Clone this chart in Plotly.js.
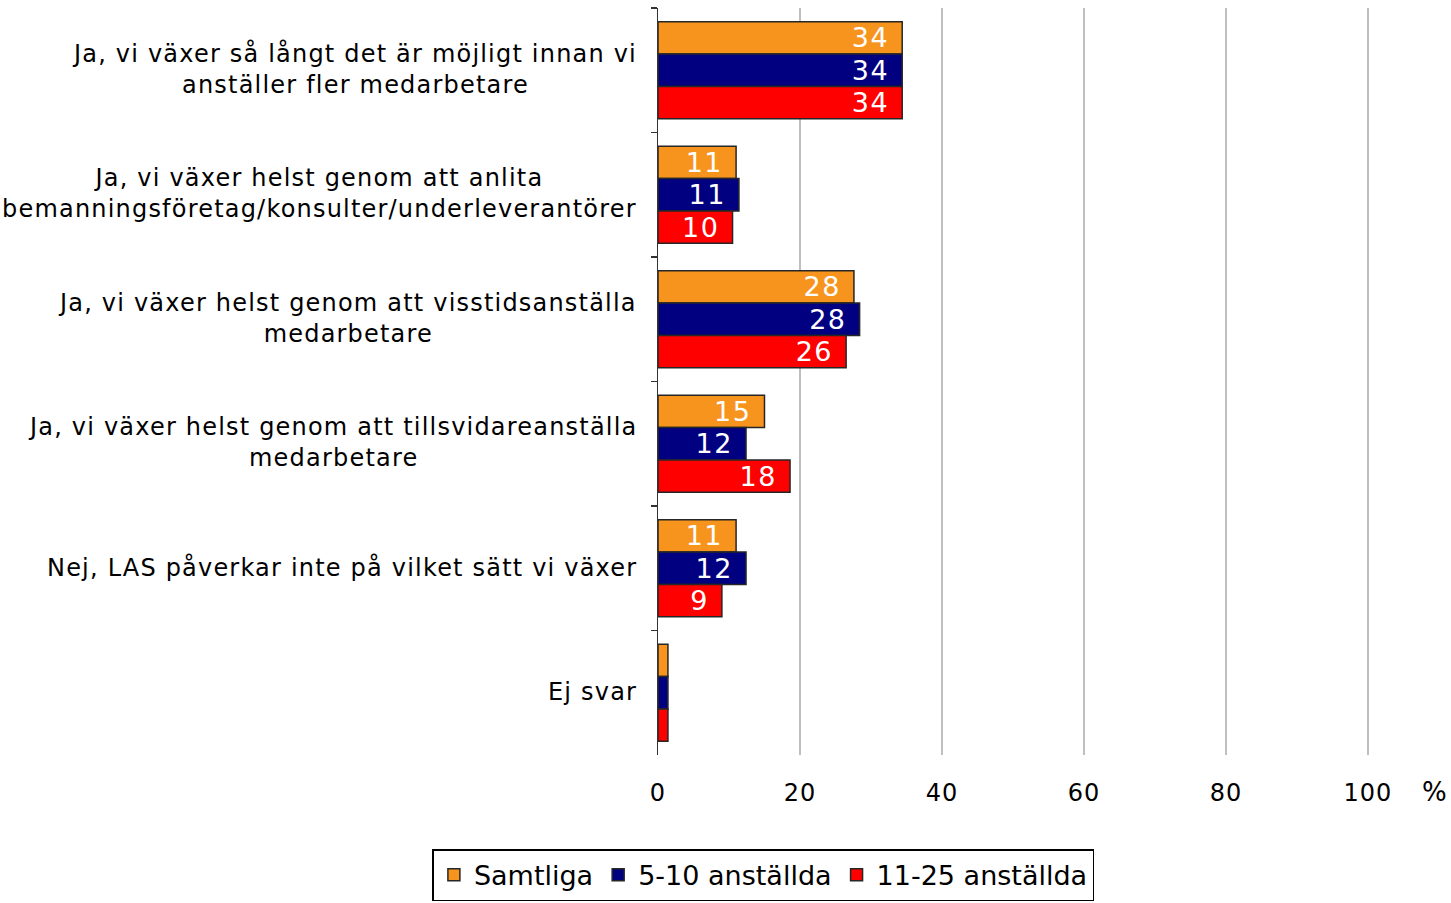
<!DOCTYPE html>
<html>
<head>
<meta charset="utf-8">
<script src="https://cdn.plot.ly/plotly-3.0.1.min.js"></script>
<style>
html,body{margin:0;padding:0;background:#fff;}
#chart{width:1451px;height:903px;}
text.annotation-text{letter-spacing:1.2px;}
text.bartext{letter-spacing:1.5px;}
.xtick text{letter-spacing:1px;}
</style>
</head>
<body>
<div id="chart"></div>
<script>
const categories = [
  "Ja, vi växer så långt det är möjligt innan vi<br>anställer fler medarbetare",
  "Ja, vi växer helst genom att anlita<br>bemanningsföretag/konsulter/underleverantörer",
  "Ja, vi växer helst genom att visstidsanställa<br>medarbetare",
  "Ja, vi växer helst genom att tillsvidareanställa<br>medarbetare",
  "Nej, LAS påverkar inte på vilket sätt vi växer",
  "Ej svar"
];
const seriesNames = ["Samtliga", "5-10 anställda", "11-25 anställda"];
const samtliga = [34.4, 11.0, 27.6, 15.0, 11.0, 1.4];
const small = [34.4, 11.4, 28.4, 12.4, 12.4, 1.4];
const medium = [34.4, 10.5, 26.5, 18.6, 9.0, 1.4];
const samtligaLabels = ["34", "11", "28", "15", "11", ""];
const smallLabels = ["34", "11", "28", "12", "12", ""];
const mediumLabels = ["34", "10", "26", "18", "9", ""];
const xTicks = [0, 20, 40, 60, 80, 100];
const colors = ["#F7941D", "#000080", "#FF0000"];

const FONT = "DejaVu Sans, Verdana, sans-serif";
const vals = [samtliga, small, medium];
const labs = [samtligaLabels, smallLabels, mediumLabels];
const data = seriesNames.map((name, i) => ({
  type: "bar",
  orientation: "h",
  name: name,
  y: categories,
  x: vals[i],
  text: labs[i].map(t => t ? t + "\u00a0" : ""),
  textposition: "inside",
  insidetextanchor: "end",
  textangle: 0,
  constraintext: "none",
  insidetextfont: {family: FONT, size: 27, color: "#ffffff"},
  hoverinfo: "x+name",
  marker: {color: colors[i], line: {color: "#262626", width: 1.5}}
}));

const annotations = categories.map(c => ({
  xref: "paper", yref: "y", x: 0, y: c,
  xanchor: "right", yanchor: "middle", align: "center",
  xshift: -19, yshift: 1, text: c, showarrow: false,
  font: {family: FONT, size: 24, color: "#000"}
}));
annotations.push({
  xref: "x", yref: "paper", x: 100, y: 0, xanchor: "left", yanchor: "top",
  xshift: 52, yshift: -20, text: "%", showarrow: false,
  font: {family: FONT, size: 26, color: "#000"}
});

const layout = {
  width: 1451, height: 903,
  margin: {l: 658, r: 76, t: 8, b: 148, autoexpand: false},
  paper_bgcolor: "#fff", plot_bgcolor: "#fff",
  barmode: "group", bargap: 0.22, bargroupgap: 0,
  font: {family: FONT, color: "#000"},
  showlegend: true,
  legend: {
    orientation: "h", x: 0.147, xanchor: "center", y: -0.126, yanchor: "top",
    bordercolor: "#000", borderwidth: 1.5,
    font: {family: FONT, size: 27, color: "#000"},
    itemwidth: 30, tracegroupgap: 0
  },
  xaxis: {
    range: [0, 101], tickvals: xTicks, ticktext: xTicks.map(String),
    showgrid: true, gridcolor: "#BFBFBF", gridwidth: 1.5,
    zeroline: false, showline: false, ticks: "",
    ticklabelstandoff: 21,
    tickfont: {family: FONT, size: 24, color: "#000"}
  },
  yaxis: {
    type: "category", autorange: "reversed",
    showticklabels: false, tickson: "boundaries",
    ticks: "outside", ticklen: 6, tickcolor: "#333", tickwidth: 1.5,
    showline: true, linecolor: "#333", linewidth: 1.5,
    showgrid: false, zeroline: false
  },
  annotations: annotations
};

Plotly.newPlot("chart", data, layout, {displayModeBar: false, staticPlot: true});
</script>
</body>
</html>
